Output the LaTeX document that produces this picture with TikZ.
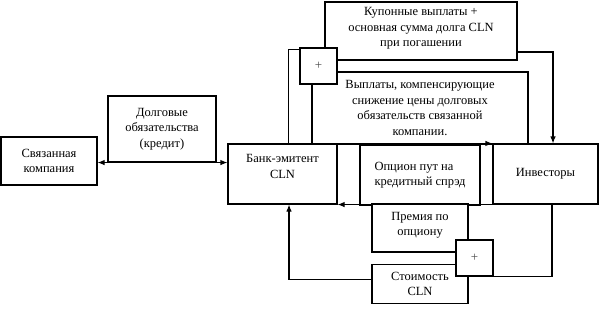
\documentclass[tikz,border=0pt]{standalone}
\usepackage{fontspec}
\setmainfont{Liberation Serif}
\usetikzlibrary{arrows.meta}

\begin{document}
\begin{tikzpicture}[
				x=1pt,y=-1pt,
				>={Latex[length=7pt,width=5.5pt]},
				line width=1.1pt,
				box/.style={
					rectangle,
					draw,
					fill=white,
					align=center,
					inner sep=1pt,
					font=\fontsize{12.5}{15.5}\selectfont
				},
				plusbox/.style={
					rectangle,
					draw,
					fill=white,
					minimum width=37pt,
					minimum height=36pt,
					inner sep=0pt,
					text=black!70,
					font=\fontsize{13}{15}\selectfont
				}
				]
				
				\useasboundingbox (0,0) rectangle (601,313);
				
				% -------------------------------------------------------------------------
				% Main boxes
				% -------------------------------------------------------------------------
				
				\node[box,minimum width=96pt,minimum height=48pt] (COMP) at (49,161)
				{Связанная\\компания};
				
				\node[box,minimum width=108pt,minimum height=66pt] (DEBT) at (162,129)
				{Долговые\\обязательства\\(кредит)};
				
				\node[box,minimum width=109pt,minimum height=60pt,text depth=15pt] (BANK) at (282.5,174)
				{Банк-эмитент\\CLN};
				
				\node[box,align=left,minimum width=120pt,minimum height=60pt] (OPT) at (420,175)
				{Опцион пут на\\кредитный спрэд};
				
				\node[box,minimum width=105pt,minimum height=60pt] (INV) at (545.5,174)
				{Инвесторы};
				
				\node[box,minimum width=192pt,minimum height=58pt,text depth=8pt] (COUP) at (421,31)
				{Купонные выплаты +\\основная сумма долга CLN\\при погашении};
				
				\node[box,minimum width=216pt,minimum height=72pt] (COMPENS) at (420,108)
				{Выплаты, компенсирующие\\снижение цены долговых\\обязательств связанной\\компании.};
				
				\node[box,minimum width=96pt,minimum height=48pt,text depth=8pt] (PREM) at (420,228)
				{Премия по\\опциону};
				
				\node[box,minimum width=96pt,minimum height=39pt] (COST) at (420,284)
				{Стоимость\\CLN};
				
				% -------------------------------------------------------------------------
				% Summation boxes
				% -------------------------------------------------------------------------
				
				\node[plusbox] (PLUSTOP) at (318.5,66) {+};
				\node[plusbox] (PLUSBOT) at (474.5,258) {+};
				
				% -------------------------------------------------------------------------
				% Connectors
				% -------------------------------------------------------------------------
				
				\draw[<->] (COMP.east |- DEBT.south) -- (BANK.west |- DEBT.south);
				
				\draw ([xshift=6pt]BANK.north) |- ([yshift=-2pt]PLUSTOP.north west);
				\draw[->] ([yshift=-21pt]COUP.east) -| ([xshift=7.5pt]INV.north);
				
				\draw[->] (BANK.north east) -- (INV.north west);
				\draw[->] (INV.south west) -- (BANK.south east);
				
				\draw[->] ([yshift=4.5pt]COST.west) -| ([xshift=6.5pt]BANK.south);
				\draw (PLUSBOT.south east) -| ([xshift=6.5pt]INV.south);
				
		\end{tikzpicture}
\end{document}
